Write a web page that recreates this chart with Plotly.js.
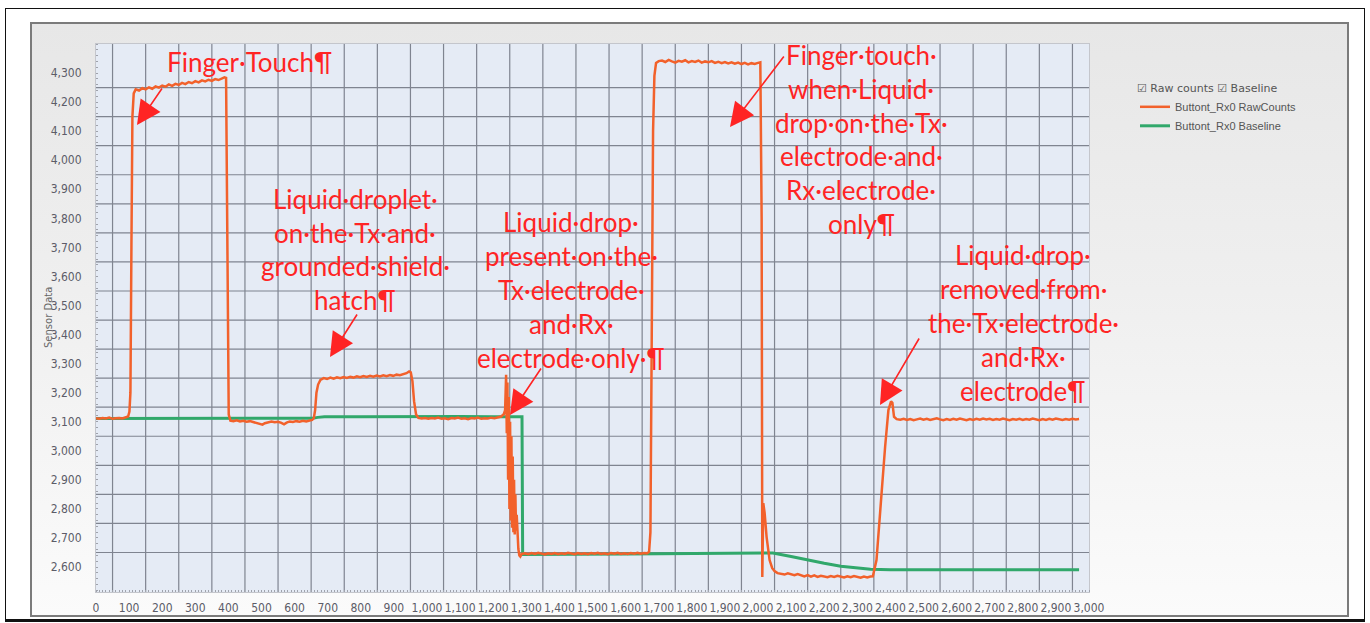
<!DOCTYPE html>
<html>
<head>
<meta charset="utf-8">
<script src="https://cdn.plot.ly/plotly-3.0.1.min.js"></script>
<style>
  html, body { margin: 0; padding: 0; background: #ffffff; }
  #frame { position: absolute; left: 5px; top: 8px; width: 1358px; height: 610px; border: 1px solid #111; border-bottom: 3px solid #111; }
  #panel { position: absolute; left: 30px; top: 22px; width: 1315px; height: 591px; border: 2px solid #7b7b7b;
           background: linear-gradient(to bottom, #e7e7e7 0%, #efefef 45%, #fbfbfb 100%); }
  #chart { position: absolute; left: 0; top: 0; width: 1370px; height: 623px; }
</style>
</head>
<body>
<div id="frame"></div>
<div id="panel"></div>
<div id="chart"></div>
<script>
// ---------------- data ----------------
const rawName = "Buttont_Rx0 RawCounts";
const baseName = "Buttont_Rx0 Baseline";

const xRaw = [
  0,10,20,30,40,50,60,70,80,90,97,101,104,107,110,114,120,
  130,140,150,160,170,180,190,200,210,220,230,240,250,260,270,280,290,300,310,320,330,340,350,360,370,380,388,393,
  396,398,401,406,
  415,425,435,445,455,465,475,485,495,503,510,520,530,540,550,560,568,576,585,595,605,615,625,635,645,653,658,662,666,671,678,688,
  698,708,718,728,738,748,758,768,778,788,798,808,818,828,838,848,858,868,878,888,898,908,918,928,938,946,951,956,961,967,974,
  984,994,1004,1014,1024,1034,1044,1054,1064,1074,1084,1094,1104,1114,1124,1134,1144,1154,1164,1174,1184,1194,1204,1214,1224,1232,
  1236,1239,1241,1243,1245,1247,1249,1251,1253,1255,1257,1259,1261,1263,1265,1267,1269,1271,1273,1276,1279,1282,1286,
  1296,1306,1316,1326,1336,1346,1356,1366,1376,1386,1396,1406,1416,1426,1436,1446,1456,1466,1476,1486,1496,1506,1516,1526,1536,1546,1556,1566,1576,1586,1596,1606,1616,1626,1636,1646,1656,1664,1671,
  1675,1679,1683,1687,1692,1700,
  1710,1720,1730,1740,1750,1760,1770,1780,1790,1800,1810,1820,1830,1840,1850,1860,1870,1880,1890,1900,1910,1920,1930,1940,1950,1960,1970,1980,1990,2000,2007,
  2011,2013,2016,2020,2026,2035,2043,2050,2059,
  2070,2080,2090,2100,2110,2120,2130,2140,2150,2160,2170,2180,2190,2200,2210,2220,2230,2240,2250,2260,2270,2280,2290,2300,2310,2320,2330,2340,
  2347,2358,2368,2384,2394,2402,2406,2411,2419,
  2430,2440,2450,2460,2470,2480,2490,2500,2510,2520,2530,2540,2550,2560,2570,2580,2590,2600,2610,2620,2630,2640,2650,2660,2670,2680,2690,2700,
  2710,2720,2730,2740,2750,2760,2770,2780,2790,2800,2810,2820,2830,2840,2850,2860,2870,2880,2890,2900,2910,2920,2930,2940,2950,2960,2970
];
const yRaw = [
  3112,3110,3113,3111,3114,3110,3112,3113,3111,3114,3118,3135,3200,3700,4150,4230,4244,
  4240,4248,4244,4251,4246,4254,4250,4257,4253,4261,4256,4263,4259,4266,4262,4269,4265,4272,4268,4275,4271,4277,4273,4279,4276,4282,4285,4283,
  3800,3300,3125,3104,
  3102,3105,3101,3103,3100,3102,3099,3097,3093,3090,3095,3099,3101,3098,3100,3096,3091,3097,3101,3099,3102,3100,3103,3101,3104,3106,3112,3140,3200,3228,3244,3250,
  3247,3252,3248,3253,3250,3254,3251,3255,3252,3256,3253,3257,3254,3258,3255,3259,3256,3260,3257,3261,3258,3262,3260,3264,3267,3273,3270,3240,3170,3125,3113,
  3111,3113,3110,3113,3111,3114,3110,3112,3109,3113,3111,3114,3110,3112,3109,3113,3111,3114,3110,3112,3111,3114,3112,3115,3118,3126,
  3140,3262,3060,3235,2900,3185,2800,3100,2760,3050,2735,2980,2720,2900,2712,2850,2725,2780,2700,2662,2640,2636,2645,
  2647,2644,2648,2645,2649,2646,2643,2647,2645,2648,2644,2647,2645,2649,2646,2644,2648,2645,2647,2644,2648,2646,2649,2645,2647,2644,2648,2646,2649,2645,2647,2645,2648,2646,2649,2646,2648,2647,2652,
  2720,3400,4100,4290,4335,4341,
  4343,4338,4345,4340,4336,4342,4339,4344,4337,4341,4338,4343,4336,4340,4337,4341,4335,4339,4334,4338,4333,4337,4332,4336,4331,4335,4330,4334,4331,4335,4337,
  3800,2566,2820,2786,2703,2624,2596,2586,2579,
  2577,2574,2578,2575,2572,2576,2571,2568,2572,2567,2571,2566,2570,2568,2565,2569,2566,2570,2567,2564,2568,2565,2569,2566,2563,2567,2564,2567,
  2568,2624,2786,3013,3140,3170,3165,3117,3109,
  3107,3110,3106,3109,3105,3108,3111,3107,3110,3106,3109,3112,3108,3105,3109,3106,3110,3107,3111,3108,3105,3109,3106,3110,3107,3111,3108,3110,
  3106,3109,3107,3111,3108,3105,3109,3107,3110,3106,3109,3107,3111,3108,3105,3109,3106,3110,3107,3111,3108,3106,3109,3107,3110,3108,3109
];

const xBase = [0,100,200,300,400,500,600,655,670,690,800,900,1000,1100,1200,1287,1289,1300,1400,1500,1600,1700,1800,1900,2000,2045,2100,2150,2200,2250,2300,2340,2400,2500,2600,2700,2800,2900,2970];
const yBase = [3111,3111,3112,3111,3112,3111,3112,3112,3115,3117,3117,3118,3117,3118,3117,3117,2643,2643,2644,2645,2645,2646,2647,2647,2648,2648,2636,2624,2613,2603,2596,2592,2591,2591,2591,2591,2591,2591,2591];

const xLabelTicks = [0,100,200,300,400,500,600,700,800,900,1000,1100,1200,1300,1400,1500,1600,1700,1800,1900,2000,2100,2200,2300,2400,2500,2600,2700,2800,2900,3000];
const yLabelTicks = [2600,2700,2800,2900,3000,3100,3200,3300,3400,3500,3600,3700,3800,3900,4000,4100,4200,4300];
const xGridVals = [50,150,250,350,450,550,650,750,850,950,1050,1150,1250,1350,1450,1550,1650,1750,1850,1950,2050,2150,2250,2350,2450,2550,2650,2750,2850,2950];
const yGridVals = [2650,2750,2850,2950,3050,3150,3250,3350,3450,3550,3650,3750,3850,3950,4050,4150,4250];

const yTitle = "Sensor Data";
const legendHeader = "☑ Raw counts ☑ Baseline";

const textFinger = ["Finger·Touch¶"];
const textDroplet = ["Liquid·droplet·", "on·the·Tx·and·", "grounded·shield·", "hatch¶"];
const textPresent = ["Liquid·drop·", "present·on·the·", "Tx·electrode·", "and·Rx·", "electrode·only·¶"];
const textTouchLiquid = ["Finger·touch·", "when·Liquid·", "drop·on·the·Tx·", "electrode·and·", "Rx·electrode·", "only¶"];
const textRemoved = ["Liquid·drop·", "removed·from·", "the·Tx·electrode·", "and·Rx·", "electrode¶"];

// ---------------- layout helpers ----------------
const FIG_W = 1370, FIG_H = 623;
const PL = 96, PR = 1089, PT = 44, PB = 592;
const px2x = p => (p - PL) / (PR - PL);
const py2y = p => (PB - p) / (PB - PT);

const RED = "#ff2424";
const annFont = { family: "Lato, 'Open Sans', sans-serif", size: 26, color: RED };

const annotations = [];
function addBlock(lines, cx, y0, step) {
  lines.forEach((t, i) => {
    annotations.push({
      xref: "paper", yref: "paper", x: px2x(cx), y: py2y(y0 + i * step),
      xanchor: "center", yanchor: "middle", text: t, showarrow: false, font: annFont
    });
  });
}
addBlock(textFinger, 249, 62, 0);
addBlock(textDroplet, 355, 199, 33.7);
addBlock(textPresent, 571, 222, 34);
addBlock(textTouchLiquid, 861, 55, 33.8);
addBlock(textRemoved, 1023, 255, 34);

function addArrow(tailX, tailY, tipX, tipY) {
  annotations.push({
    xref: "paper", yref: "paper", x: px2x(tipX), y: py2y(tipY),
    axref: "pixel", ayref: "pixel", ax: tailX - tipX, ay: tailY - tipY,
    text: "", showarrow: true, arrowhead: 2, arrowsize: 3, arrowwidth: 1.6,
    arrowcolor: RED, standoff: 0
  });
}
addArrow(163, 87, 137, 125);
addArrow(358, 313, 330, 357);
addArrow(542, 367, 510, 415);
addArrow(785, 55, 730, 127);
addArrow(920, 337, 880, 405);

// y-axis title
annotations.push({
  xref: "paper", yref: "paper", x: px2x(48), y: py2y(318), xanchor: "center", yanchor: "middle",
  text: yTitle, textangle: -90, showarrow: false,
  font: { family: "DejaVu Sans, sans-serif", size: 10, color: "#666" }
});

// grid lines (offset half a step from the labels, as in the source chart)
const GRID = { color: "#7f8490", width: 1.2 };
const shapes = [];
xGridVals.forEach(v => shapes.push({ type: "line", layer: "below", xref: "x", yref: "paper", x0: v, x1: v, y0: 0, y1: 1, line: GRID }));
yGridVals.forEach(v => shapes.push({ type: "line", layer: "below", xref: "paper", yref: "y", x0: 0, x1: 1, y0: v, y1: v, line: GRID }));

const tickFont = { family: "'Liberation Sans Narrow', 'DejaVu Sans Condensed', sans-serif", size: 12, color: "#5c5c68" };

const traces = [
  { x: xBase, y: yBase, name: baseName, type: "scatter", mode: "lines",
    line: { color: "#31a86b", width: 3 } },
  { x: xRaw, y: yRaw, name: rawName, type: "scatter", mode: "lines",
    line: { color: "#f2612b", width: 2.5 } }
];

const layout = {
  width: FIG_W, height: FIG_H,
  margin: { l: PL, r: FIG_W - PR, t: PT, b: FIG_H - PB, pad: 0 },
  paper_bgcolor: "rgba(0,0,0,0)",
  plot_bgcolor: "#e5ebf5",
  showlegend: true,
  legend: {
    xref: "container", yref: "container", x: 1135 / FIG_W, y: 1 - 78 / FIG_H,
    xanchor: "left", yanchor: "top", bgcolor: "rgba(0,0,0,0)", traceorder: "reversed",
    font: { family: "'Liberation Sans Narrow', sans-serif", size: 11, color: "#555" },
    title: { text: legendHeader, side: "top", font: { family: "'Liberation Sans Narrow', 'DejaVu Sans', sans-serif", size: 11, color: "#555" } },
    itemwidth: 30
  },
  xaxis: {
    range: [0, 3000], tickmode: "array", tickvals: xLabelTicks, tickformat: ",d", tickangle: 0,
    showgrid: false, zeroline: false, ticks: "", ticklabelstandoff: 5,
    tickfont: tickFont, showline: true, linecolor: "#c4c6cc", linewidth: 1, mirror: true,
    minor: { tickmode: "linear", tick0: 0, dtick: 10, ticks: "inside", ticklen: 2, tickcolor: "#9fa2ab", showgrid: false }
  },
  yaxis: {
    range: [2514, 4400], tickmode: "array", tickvals: yLabelTicks, tickformat: ",d",
    showgrid: false, zeroline: false, ticks: "", ticklabelstandoff: 11,
    tickfont: tickFont, showline: true, linecolor: "#c4c6cc", linewidth: 1, mirror: true,
    minor: { tickmode: "linear", tick0: 0, dtick: 20, ticks: "inside", ticklen: 2, tickcolor: "#9fa2ab", showgrid: false }
  },
  shapes: shapes,
  annotations: annotations
};

Plotly.newPlot("chart", traces, layout, { displayModeBar: false, staticPlot: true });
</script>
</body>
</html>
